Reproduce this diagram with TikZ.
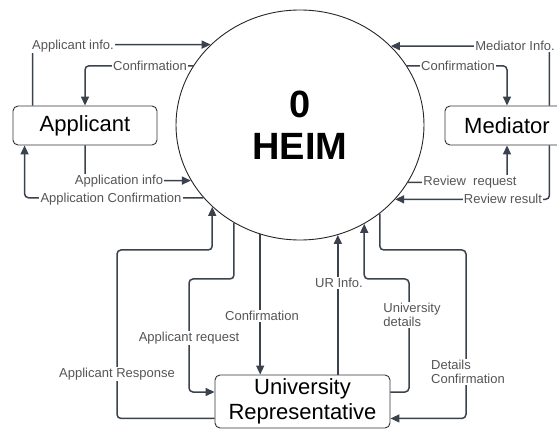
\documentclass[tikz,border=0pt]{standalone}
\usepackage{fontspec}
\setmainfont{Liberation Sans}
\usetikzlibrary{shapes.geometric,arrows.meta}
\definecolor{flowc}{HTML}{3A424D}
\definecolor{labc}{HTML}{555555}
\tikzset{
	proc/.style={ellipse,draw=black!85,line width=0.9pt,minimum width=248pt,minimum height=230pt,inner sep=0pt,align=center,font=\fontsize{38}{42}\selectfont\bfseries},
	entity/.style={rectangle,rounded corners=5pt,draw=black!80,line width=0.9pt,inner sep=0pt,font=\fontsize{22}{25}\selectfont},
	flow/.style={draw=flowc,line width=1.5pt,rounded corners=4pt,-{Triangle[length=9pt,width=8pt]}},
	lbl/.style={fill=white,text=labc,inner sep=1.2pt,font=\fontsize{13}{14.5}\selectfont}
}
\begin{document}
\begin{tikzpicture}[x=1pt,y=-1pt]
	\useasboundingbox (0,0) rectangle (557,430);
	\clip (0,0) rectangle (557,430);
	\node[proc] (heim) at (300,125) {0\\HEIM};
	\node[entity,minimum width=144pt,minimum height=39pt] (app) at (85,125.5) {Applicant};
	\node[entity,minimum width=124pt,minimum height=39pt] (med) at (507,125.5) {Mediator};
	\node[entity,minimum width=175pt,minimum height=53pt,align=center] (ur) at (302.5,401.5) {University\\Representative};
	% applicant side
	\draw[flow] ([xshift=20pt]app.north west) |- (heim.138.8);
	\draw[flow] (heim.151) -| (app.north);
	\draw[flow] (app.south) |- (heim.207.3);
	\draw[flow] (heim.217.9) -| ([xshift=12pt]app.south west);
	\node[lbl] (l1) at (73,46) {Applicant info.};
	\node[lbl] (l2) at (150,66) {Confirmation};
	\node[lbl] (l3) at (119,181) {Application info};
	\node[lbl] (l4) at (111,199) {Application Confirmation};
	% mediator side
	\draw[flow] ([xshift=-20pt]med.north east) |- (heim.41.2);
	\draw[flow] (heim.29) -| (med.north);
	\draw[flow] (heim.332.1) -| (med.south);
	\draw[flow] ([xshift=-20pt]med.south east) |- (heim.322.1);
	\node[lbl] (l5) at (515,46) {Mediator Info.};
	\node[lbl] (l6) at (458,66) {Confirmation};
	\node[lbl] (l7) at (470,182) {Review\ \ request};
	\node[lbl] (l8) at (503,199) {Review result};
	% university representative
	\draw[flow] ([yshift=10pt]ur.south west) -| (117,250) -| (heim.223.3);
	\draw[flow] (heim.236.4) |- (189,279) |- ([yshift=9.5pt]ur.west);
	\draw[flow] (heim.250.9) -- (heim.250.9 |- ur.north);
	\draw[flow] (heim.289.7 |- ur.north) -- (heim.289.7);
	\draw[flow] ([yshift=9.5pt]ur.east) -| (409,279) -| (heim.303.6);
	\draw[flow] (heim.312.3) |- (466,250) |- ([yshift=10pt]ur.south east);
	\node[lbl] (l9) at (117,374) {Applicant Response};
	\node[lbl] (l10) at (189,338) {Applicant request};
	\node[lbl] (l11) at (262,316) {Confirmation};
	\node[lbl] (l12) at (339,283) {UR Info.};
	\node[lbl,align=left] (l13) at (412,315) {University\\details};
	\node[lbl,align=left] (l14) at (468,372) {Details\\Confirmation};
	%\node at (300,125) {};
\end{tikzpicture}
\end{document}
